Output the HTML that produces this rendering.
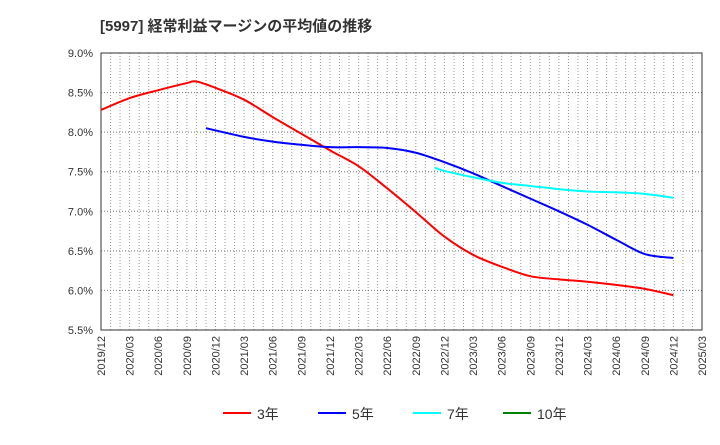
<!DOCTYPE html>
<html><head><meta charset="utf-8"><style>
body{margin:0;background:#fff;font-family:"Liberation Sans","Noto Sans CJK JP",sans-serif}
</style></head><body>
<svg width="720" height="440" xmlns="http://www.w3.org/2000/svg">
<text x="100" y="31" font-size="15" font-weight="bold" fill="#333" font-family="Liberation Sans, Noto Sans CJK JP, sans-serif">[5997]  経常利益マージンの平均値の推移</text>
<g id="grid"></g><g id="axes"></g><g id="series"></g><g id="legend"></g>
</svg>
<script>
const xLabels=["2019/12","2020/03","2020/06","2020/09","2020/12","2021/03","2021/06","2021/09","2021/12","2022/03","2022/06","2022/09","2022/12","2023/03","2023/06","2023/09","2023/12","2024/03","2024/06","2024/09","2024/12","2025/03"];
const yTicks=[5.5,6.0,6.5,7.0,7.5,8.0,8.5,9.0];
// month index from 2019/12
const s3m=[0,3,6,9,10,12,15,18,21,24,27,30,33,36,39,42,45,48,51,54,57,60];
const s3v=[8.28,8.43,8.53,8.62,8.64,8.56,8.41,8.19,7.98,7.77,7.57,7.29,6.99,6.68,6.45,6.30,6.18,6.14,6.11,6.07,6.02,5.94];
const s5m=[11,15,18,21,24,27,30,33,36,39,42,45,48,51,54,57,60];
const s5v=[8.05,7.94,7.88,7.84,7.81,7.81,7.80,7.74,7.62,7.48,7.32,7.16,7.00,6.83,6.64,6.46,6.41];
const s7m=[35,36,39,42,45,48,51,54,57,60];
const s7v=[7.55,7.51,7.43,7.36,7.32,7.28,7.25,7.24,7.22,7.17];
const L=101,R=702,T=53,B=330;
const X=m=>L+m*(R-L)/63, Y=v=>B-(v-5.5)*(B-T)/3.5;
const NS="http://www.w3.org/2000/svg";
function mk(p,t,a){const e=document.createElementNS(NS,t);for(const k in a)e.setAttribute(k,a[k]);p.appendChild(e);return e;}
const grid=document.getElementById('grid'),axes=document.getElementById('axes'),ser=document.getElementById('series'),leg=document.getElementById('legend');
for(let m=1;m<63;m++){const l=mk(grid,'line',{x1:X(m),x2:X(m),y1:T,y2:B,stroke:'#999','stroke-dasharray':'1,2'});

}
yTicks.forEach(v=>{if(v>5.5&&v<9){const l=mk(grid,'line',{x1:L,x2:R,y1:Y(v),y2:Y(v),stroke:'#777','stroke-dasharray':'1,2'});

}
const t=mk(axes,'text',{x:L-8,y:Y(v)+4,'text-anchor':'end','font-size':11,fill:'#333'});t.textContent=v.toFixed(1)+'%';

});
xLabels.forEach((s,i)=>{const x=X(i*3);const t=mk(axes,'text',{transform:`translate(${x+4},${B+6}) rotate(-90)`,'text-anchor':'end','font-size':11,fill:'#333'});t.textContent=s;

});
const fr=mk(axes,'rect',{x:L,y:T,width:R-L,height:B-T,fill:'none',stroke:'#333','stroke-width':1});


function path(ms,vs){const p=ms.map((m,i)=>[X(m),Y(vs[i])]);let d=`M${p[0][0]},${p[0][1]}`;
for(let i=0;i<p.length-1;i++){const p0=p[i-1]||p[i],p1=p[i],p2=p[i+1],p3=p[i+2]||p2;
d+=` C${p1[0]+(p2[0]-p0[0])/6},${p1[1]+(p2[1]-p0[1])/6} ${p2[0]-(p3[0]-p1[0])/6},${p2[1]-(p3[1]-p1[1])/6} ${p2[0]},${p2[1]}`;}return d;}
[[s3m,s3v,'#f00','series-3yr'],[s5m,s5v,'#00f','series-5yr'],[s7m,s7v,'#0ff','series-7yr']].forEach(([m,v,c,n])=>{
const e=mk(ser,'path',{d:path(m,v),fill:'none',stroke:c,'stroke-width':2});

});
[['3年','#f00',223],['5年','#00f',318],['7年','#0ff',413],['10年','#008000',503]].forEach(([s,c,x])=>{
const l=mk(leg,'line',{x1:x,x2:x+28,y1:413,y2:413,stroke:c,'stroke-width':2});


const t=mk(leg,'text',{x:x+34,y:419,'font-size':14,fill:'#333'});t.textContent=s;

});
</script>
</body></html>
